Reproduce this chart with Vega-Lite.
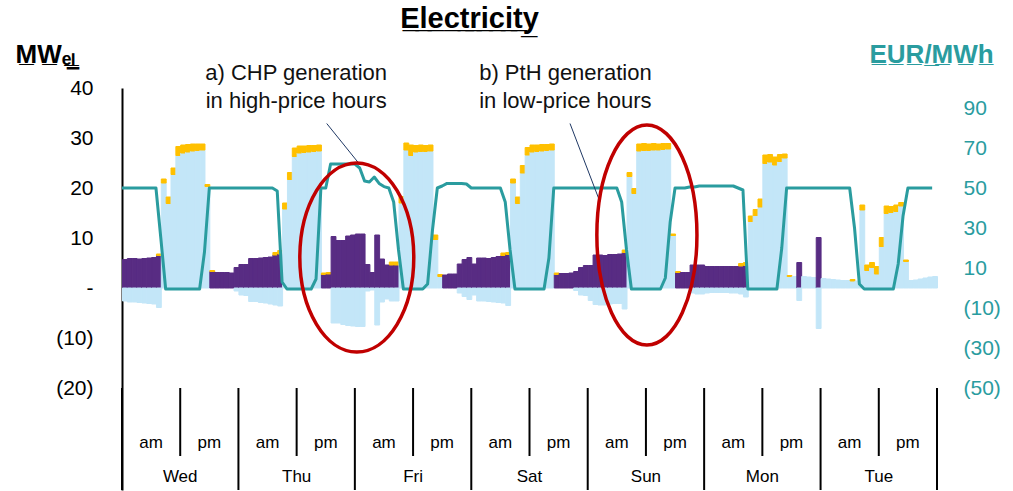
{
  "$schema": "https://vega.github.io/schema/vega-lite/v6.json",
  "width": 815,
  "height": 402,
  "autosize": "none",
  "padding": {"left": 122, "top": 88, "right": 76, "bottom": 1},
  "config": {"view": {"stroke": null}, "font": "Liberation Sans"},
  "title": {"text": "E\u0332l\u0332e\u0332c\u0332t\u0332r\u0332i\u0332c\u0332i\u0332t\u0332y\u0332", "font": "Liberation Sans", "fontSize": 29, "fontWeight": "bold", "color": "#000000", "anchor": "middle", "frame": "group", "dx": -60, "offset": -16, "baseline": "alphabetic"},
  "datasets": {
    "hours": [
      {"h":0,"chp":5.7,"pth":0,"rest":0,"neg":-2.6,"price":50},
      {"h":1,"chp":5.9,"pth":0,"rest":0,"neg":-2.8,"price":50},
      {"h":2,"chp":5.9,"pth":0,"rest":0,"neg":-2.8,"price":50},
      {"h":3,"chp":5.8,"pth":0,"rest":0,"neg":-2.9,"price":50},
      {"h":4,"chp":5.9,"pth":0,"rest":0,"neg":-3.0,"price":50},
      {"h":5,"chp":6.0,"pth":0,"rest":0,"neg":-3.1,"price":50},
      {"h":6,"chp":6.1,"pth":0,"rest":0,"neg":-3.2,"price":50},
      {"h":7,"chp":6.5,"pth":0,"rest":0.3,"neg":-3.9,"price":50},
      {"h":8,"chp":0,"pth":21,"rest":0.8,"neg":0,"price":25},
      {"h":9,"chp":0,"pth":16.9,"rest":1.3,"neg":0,"price":-0.5},
      {"h":10,"chp":0,"pth":22.7,"rest":1.3,"neg":0,"price":-0.5},
      {"h":11,"chp":0,"pth":26.5,"rest":1.8,"neg":0,"price":-0.5},
      {"h":12,"chp":0,"pth":27.0,"rest":1.6,"neg":0,"price":-0.5},
      {"h":13,"chp":0,"pth":27.2,"rest":1.5,"neg":0,"price":-0.5},
      {"h":14,"chp":0,"pth":27.4,"rest":1.4,"neg":0,"price":-0.5},
      {"h":15,"chp":0,"pth":27.5,"rest":1.3,"neg":0,"price":-0.5},
      {"h":16,"chp":0,"pth":27.6,"rest":1.2,"neg":0,"price":-0.5},
      {"h":17,"chp":0,"pth":20.3,"rest":0.4,"neg":0,"price":18},
      {"h":18,"chp":3.3,"pth":0,"rest":0.2,"neg":0,"price":50},
      {"h":19,"chp":3.1,"pth":0,"rest":0,"neg":0,"price":50},
      {"h":20,"chp":3.1,"pth":0,"rest":0,"neg":0,"price":50},
      {"h":21,"chp":3.1,"pth":0,"rest":0,"neg":0,"price":50},
      {"h":22,"chp":3.0,"pth":0,"rest":0,"neg":0,"price":50},
      {"h":23,"chp":4.1,"pth":0,"rest":0,"neg":-0.6,"price":50},
      {"h":24,"chp":4.7,"pth":0,"rest":0,"neg":-1.4,"price":50},
      {"h":25,"chp":4.7,"pth":0,"rest":0,"neg":-1.5,"price":50},
      {"h":26,"chp":5.9,"pth":0,"rest":0,"neg":-2.7,"price":50},
      {"h":27,"chp":5.9,"pth":0,"rest":0,"neg":-2.7,"price":50},
      {"h":28,"chp":6.0,"pth":0,"rest":0,"neg":-2.9,"price":50},
      {"h":29,"chp":6.1,"pth":0,"rest":0,"neg":-3.0,"price":50},
      {"h":30,"chp":6.2,"pth":0,"rest":0,"neg":-3.2,"price":50},
      {"h":31,"chp":6.6,"pth":0,"rest":0.5,"neg":-3.4,"price":50},
      {"h":32,"chp":6.8,"pth":0,"rest":0.7,"neg":-3.6,"price":48.5},
      {"h":33,"chp":0,"pth":15.8,"rest":1.2,"neg":0,"price":3},
      {"h":34,"chp":0,"pth":21.7,"rest":1.4,"neg":0,"price":-0.5},
      {"h":35,"chp":0,"pth":26.3,"rest":1.7,"neg":0,"price":-0.5},
      {"h":36,"chp":0,"pth":27.0,"rest":1.4,"neg":0,"price":-0.5},
      {"h":37,"chp":0,"pth":27.1,"rest":1.3,"neg":0,"price":-0.5},
      {"h":38,"chp":0,"pth":27.2,"rest":1.3,"neg":0,"price":-0.5},
      {"h":39,"chp":0,"pth":27.3,"rest":1.2,"neg":0,"price":-0.5},
      {"h":40,"chp":0,"pth":27.4,"rest":1.2,"neg":0,"price":4.5},
      {"h":41,"chp":2.7,"pth":0,"rest":0.3,"neg":0,"price":50},
      {"h":42,"chp":2.8,"pth":0,"rest":0.3,"neg":0,"price":50},
      {"h":43,"chp":10.3,"pth":0,"rest":0,"neg":-7.0,"price":62},
      {"h":44,"chp":9.5,"pth":0,"rest":0,"neg":-7.0,"price":62},
      {"h":45,"chp":9.5,"pth":0,"rest":0,"neg":-7.3,"price":62},
      {"h":46,"chp":10.4,"pth":0,"rest":0,"neg":-7.5,"price":62},
      {"h":47,"chp":10.6,"pth":0,"rest":0,"neg":-7.6,"price":62},
      {"h":48,"chp":10.8,"pth":0,"rest":0,"neg":-7.7,"price":62},
      {"h":49,"chp":10.8,"pth":0,"rest":0,"neg":-7.7,"price":60},
      {"h":50,"chp":4.7,"pth":0,"rest":0,"neg":-0.6,"price":53.5},
      {"h":51,"chp":3.1,"pth":0,"rest":0,"neg":-0.4,"price":53},
      {"h":52,"chp":10.6,"pth":0,"rest":0,"neg":-7.4,"price":55.5},
      {"h":53,"chp":5.8,"pth":0,"rest":0,"neg":-2.8,"price":52.3},
      {"h":54,"chp":4.6,"pth":0,"rest":0,"neg":-2.2,"price":50.7},
      {"h":55,"chp":4.6,"pth":0,"rest":0.6,"neg":-2.6,"price":50},
      {"h":56,"chp":4.6,"pth":0,"rest":0.6,"neg":-2.6,"price":43},
      {"h":57,"chp":0,"pth":17,"rest":1.3,"neg":0,"price":19},
      {"h":58,"chp":0,"pth":27.6,"rest":1.4,"neg":0,"price":-0.5},
      {"h":59,"chp":0,"pth":26.5,"rest":2.1,"neg":0,"price":-0.5},
      {"h":60,"chp":0,"pth":27.2,"rest":1.3,"neg":0,"price":-0.5},
      {"h":61,"chp":0,"pth":27.3,"rest":1.3,"neg":0,"price":-0.5},
      {"h":62,"chp":0,"pth":27.3,"rest":1.2,"neg":0,"price":-0.5},
      {"h":63,"chp":0,"pth":27.4,"rest":1.2,"neg":0,"price":2},
      {"h":64,"chp":0,"pth":9.7,"rest":0.9,"neg":0,"price":29},
      {"h":65,"chp":0,"pth":2.3,"rest":0.4,"neg":0,"price":50},
      {"h":66,"chp":2.6,"pth":0,"rest":0,"neg":0,"price":51},
      {"h":67,"chp":2.8,"pth":0,"rest":0,"neg":0,"price":52.3},
      {"h":68,"chp":2.8,"pth":0,"rest":0,"neg":0,"price":52.3},
      {"h":69,"chp":4.8,"pth":0,"rest":0,"neg":-1.0,"price":52.3},
      {"h":70,"chp":5.7,"pth":0,"rest":0,"neg":-1.7,"price":52.3},
      {"h":71,"chp":6.1,"pth":0,"rest":0,"neg":-2.3,"price":52},
      {"h":72,"chp":4.8,"pth":0,"rest":0,"neg":-1.4,"price":50},
      {"h":73,"chp":6.0,"pth":0,"rest":0,"neg":-2.6,"price":50},
      {"h":74,"chp":6.0,"pth":0,"rest":0,"neg":-2.6,"price":50},
      {"h":75,"chp":5.9,"pth":0,"rest":0,"neg":-2.7,"price":50},
      {"h":76,"chp":6.1,"pth":0,"rest":0,"neg":-2.8,"price":50},
      {"h":77,"chp":6.3,"pth":0,"rest":0,"neg":-2.9,"price":50},
      {"h":78,"chp":6.5,"pth":0,"rest":0.5,"neg":-3.0,"price":50},
      {"h":79,"chp":6.7,"pth":0,"rest":0.4,"neg":-3.5,"price":43},
      {"h":80,"chp":0,"pth":21,"rest":0.8,"neg":0,"price":19},
      {"h":81,"chp":0,"pth":16.9,"rest":1.3,"neg":0,"price":-0.5},
      {"h":82,"chp":0,"pth":23.0,"rest":1.5,"neg":0,"price":-0.5},
      {"h":83,"chp":0,"pth":26.6,"rest":1.5,"neg":0,"price":-0.5},
      {"h":84,"chp":0,"pth":27.2,"rest":1.4,"neg":0,"price":-0.5},
      {"h":85,"chp":0,"pth":27.3,"rest":1.3,"neg":0,"price":-0.5},
      {"h":86,"chp":0,"pth":27.4,"rest":1.3,"neg":0,"price":-0.5},
      {"h":87,"chp":0,"pth":27.5,"rest":1.2,"neg":0,"price":-0.5},
      {"h":88,"chp":0,"pth":27.6,"rest":1.2,"neg":0,"price":15},
      {"h":89,"chp":2.7,"pth":0,"rest":0.3,"neg":0,"price":50},
      {"h":90,"chp":2.9,"pth":0,"rest":0,"neg":0,"price":50},
      {"h":91,"chp":2.9,"pth":0,"rest":0,"neg":0,"price":50},
      {"h":92,"chp":3.0,"pth":0,"rest":0,"neg":0,"price":50},
      {"h":93,"chp":3.3,"pth":0,"rest":0,"neg":-0.5,"price":50},
      {"h":94,"chp":4.1,"pth":0,"rest":0,"neg":-1.4,"price":50},
      {"h":95,"chp":4.5,"pth":0,"rest":0,"neg":-1.5,"price":50},
      {"h":96,"chp":4.5,"pth":0,"rest":0,"neg":-2.5,"price":50},
      {"h":97,"chp":6.6,"pth":0,"rest":0,"neg":-3.3,"price":50},
      {"h":98,"chp":6.6,"pth":0,"rest":0,"neg":-3.4,"price":50},
      {"h":99,"chp":6.5,"pth":0,"rest":0,"neg":-3.4,"price":50},
      {"h":100,"chp":6.7,"pth":0,"rest":0,"neg":-3.2,"price":50},
      {"h":101,"chp":6.7,"pth":0,"rest":0,"neg":-3.1,"price":50},
      {"h":102,"chp":6.8,"pth":0,"rest":0,"neg":-3.1,"price":50},
      {"h":103,"chp":7.1,"pth":0,"rest":0.5,"neg":-4.2,"price":43},
      {"h":104,"chp":0,"pth":22.3,"rest":0.8,"neg":0,"price":19},
      {"h":105,"chp":0,"pth":18.9,"rest":1.0,"neg":0,"price":-0.5},
      {"h":106,"chp":0,"pth":27.4,"rest":1.4,"neg":0,"price":-0.5},
      {"h":107,"chp":0,"pth":27.5,"rest":1.4,"neg":0,"price":-0.5},
      {"h":108,"chp":0,"pth":27.5,"rest":1.3,"neg":0,"price":-0.5},
      {"h":109,"chp":0,"pth":27.6,"rest":1.3,"neg":0,"price":-0.5},
      {"h":110,"chp":0,"pth":27.6,"rest":1.2,"neg":0,"price":-0.5},
      {"h":111,"chp":0,"pth":27.7,"rest":1.2,"neg":0,"price":-0.5},
      {"h":112,"chp":0,"pth":27.8,"rest":1.1,"neg":0,"price":5},
      {"h":113,"chp":0,"pth":10.5,"rest":0.3,"neg":0,"price":33},
      {"h":114,"chp":3.1,"pth":0,"rest":0.2,"neg":0,"price":50},
      {"h":115,"chp":3.1,"pth":0,"rest":0,"neg":0,"price":50},
      {"h":116,"chp":3.1,"pth":0,"rest":0,"neg":0,"price":50},
      {"h":117,"chp":4.6,"pth":0,"rest":0,"neg":-1.0,"price":50.5},
      {"h":118,"chp":4.6,"pth":0,"rest":0,"neg":-1.2,"price":50.5},
      {"h":119,"chp":4.6,"pth":0,"rest":0,"neg":-1.2,"price":51},
      {"h":120,"chp":4.3,"pth":0,"rest":0,"neg":-1.0,"price":51},
      {"h":121,"chp":4.3,"pth":0,"rest":0,"neg":-0.9,"price":51},
      {"h":122,"chp":4.3,"pth":0,"rest":0,"neg":-0.9,"price":51},
      {"h":123,"chp":4.3,"pth":0,"rest":0,"neg":-0.9,"price":51},
      {"h":124,"chp":4.3,"pth":0,"rest":0,"neg":-0.9,"price":51},
      {"h":125,"chp":4.3,"pth":0,"rest":0,"neg":-1.0,"price":51},
      {"h":126,"chp":4.3,"pth":0,"rest":0,"neg":-1.0,"price":51},
      {"h":127,"chp":4.4,"pth":0,"rest":0.5,"neg":-1.2,"price":50},
      {"h":128,"chp":4.5,"pth":0,"rest":0.6,"neg":-1.8,"price":49},
      {"h":129,"chp":0,"pth":13.3,"rest":1.1,"neg":0,"price":-0.5},
      {"h":130,"chp":0,"pth":14.5,"rest":1.2,"neg":0,"price":-0.5},
      {"h":131,"chp":0,"pth":16.2,"rest":1.6,"neg":0,"price":-0.5},
      {"h":132,"chp":0,"pth":24.9,"rest":1.7,"neg":0,"price":-0.5},
      {"h":133,"chp":0,"pth":25.2,"rest":1.5,"neg":0,"price":-0.5},
      {"h":134,"chp":0,"pth":24.6,"rest":1.6,"neg":0,"price":-0.5},
      {"h":135,"chp":0,"pth":25.3,"rest":1.4,"neg":0,"price":-0.5},
      {"h":136,"chp":0,"pth":26.0,"rest":0.8,"neg":0,"price":20},
      {"h":137,"chp":0,"pth":2.3,"rest":0.2,"neg":0,"price":50},
      {"h":138,"chp":0,"pth":2.3,"rest":0,"neg":0,"price":50},
      {"h":139,"chp":5.1,"pth":0,"rest":0,"neg":-2.5,"price":50},
      {"h":140,"chp":0,"pth":2.3,"rest":0,"neg":0,"price":50},
      {"h":141,"chp":0,"pth":2.2,"rest":0,"neg":0,"price":50},
      {"h":142,"chp":0,"pth":2.1,"rest":0,"neg":0,"price":50},
      {"h":143,"chp":10.1,"pth":0,"rest":0,"neg":-8.1,"price":50},
      {"h":144,"chp":0,"pth":1.9,"rest":0,"neg":0,"price":50},
      {"h":145,"chp":0,"pth":1.8,"rest":0,"neg":0,"price":50},
      {"h":146,"chp":0,"pth":1.7,"rest":0,"neg":0,"price":50},
      {"h":147,"chp":0,"pth":1.6,"rest":0,"neg":0,"price":50},
      {"h":148,"chp":0,"pth":1.5,"rest":0,"neg":0,"price":50},
      {"h":149,"chp":0,"pth":1.5,"rest":0,"neg":0,"price":50},
      {"h":150,"chp":0,"pth":1.4,"rest":0.3,"neg":0,"price":50},
      {"h":151,"chp":0,"pth":1.4,"rest":0,"neg":0,"price":30},
      {"h":152,"chp":0,"pth":15.6,"rest":1.0,"neg":0,"price":2},
      {"h":153,"chp":0,"pth":3.5,"rest":1.1,"neg":0,"price":-0.5},
      {"h":154,"chp":0,"pth":4.1,"rest":1.0,"neg":0,"price":-0.5},
      {"h":155,"chp":0,"pth":2.8,"rest":1.5,"neg":0,"price":-0.5},
      {"h":156,"chp":0,"pth":8.3,"rest":1.8,"neg":0,"price":-0.5},
      {"h":157,"chp":0,"pth":14.9,"rest":1.5,"neg":0,"price":-0.5},
      {"h":158,"chp":0,"pth":15.1,"rest":1.2,"neg":0,"price":-0.5},
      {"h":159,"chp":0,"pth":15.3,"rest":1.3,"neg":0,"price":-0.5},
      {"h":160,"chp":0,"pth":16.4,"rest":0.7,"neg":0,"price":12},
      {"h":161,"chp":0,"pth":5.3,"rest":0.3,"neg":0,"price":36},
      {"h":162,"chp":0,"pth":1.5,"rest":0,"neg":0,"price":50},
      {"h":163,"chp":0,"pth":1.6,"rest":0,"neg":0,"price":50},
      {"h":164,"chp":0,"pth":1.8,"rest":0,"neg":0,"price":50},
      {"h":165,"chp":0,"pth":2.0,"rest":0,"neg":0,"price":50},
      {"h":166,"chp":0,"pth":2.2,"rest":0,"neg":0,"price":50},
      {"h":167,"chp":0,"pth":2.3,"rest":0,"neg":0,"price":50}
    ],
    "daylines": [{"t":0},{"t":24},{"t":48},{"t":72},{"t":96},{"t":120},{"t":144},{"t":168}],
    "ampmlines": [{"t":12},{"t":36},{"t":60},{"t":84},{"t":108},{"t":132},{"t":156}],
    "ampm": [
      {"t":6,"lab":"am"},{"t":18,"lab":"pm"},{"t":30,"lab":"am"},{"t":42,"lab":"pm"},
      {"t":54,"lab":"am"},{"t":66,"lab":"pm"},{"t":78,"lab":"am"},{"t":90,"lab":"pm"},
      {"t":102,"lab":"am"},{"t":114,"lab":"pm"},{"t":126,"lab":"am"},{"t":138,"lab":"pm"},
      {"t":150,"lab":"am"},{"t":162,"lab":"pm"}
    ],
    "days": [
      {"t":12,"lab":"Wed"},{"t":36,"lab":"Thu"},{"t":60,"lab":"Fri"},{"t":84,"lab":"Sat"},
      {"t":108,"lab":"Sun"},{"t":132,"lab":"Mon"},{"t":156,"lab":"Tue"}
    ],
    "notes": [
      {"x":35.9,"y":41.6,"txt":"a) CHP generation"},
      {"x":35.9,"y":36.1,"txt":"in high-price hours"},
      {"x":91.4,"y":41.6,"txt":"b) PtH generation"},
      {"x":91.4,"y":36.1,"txt":"in low-price hours"}
    ],
    "leaders": [
      {"x":42.2,"y":32.9,"x2":49.1,"y2":24.6},
      {"x":92.35,"y":32.9,"x2":98.5,"y2":17.3}
    ],
    "ellA": [{"x":48.4,"y":6.1}],
    "ellB": [{"x":108.2,"y":10.6}]
  },
  "layer": [
    {
      "layer": [
        {
          "data": {"name": "hours"},
          "transform": [{"fold": ["chp","pth","rest","neg"], "as": ["series","mw"]}, {"filter": "datum.mw != 0"}],
          "mark": {"type": "bar", "binSpacing": 0, "strokeWidth": 1},
          "encoding": {
            "x": {"field": "h", "type": "quantitative", "bin": {"binned": true, "step": 1}, "scale": {"domain": [0,168], "nice": false, "zero": false}, "axis": null},
            "y": {"field": "mw", "type": "quantitative", "stack": "zero",
                  "scale": {"domain": [-40.4,40], "nice": false, "zero": false},
                  "axis": {
                    "values": [-20,-10,0,10,20,30,40],
                    "labelExpr": "datum.value == 0 ? '-' : (datum.value < 0 ? '(' + (-datum.value) + ')' : '' + datum.value)",
                    "grid": false, "ticks": false, "tickSize": 0,
                    "domain": true, "domainColor": "#000000", "domainWidth": 2,
                    "labelFont": "Liberation Sans", "labelFontSize": 21, "labelColor": "#000000", "labelPadding": 29,
                    "labelOverlap": false, "labelFlush": false, "labelBound": false,
                    "title": "M\u0332W\u0332\u2091\u0332\u2097\u0332", "titleFont": "Liberation Sans", "titleFontSize": 26, "titleFontWeight": "bold", "titleColor": "#000000",
                    "titleAngle": 0, "titleAlign": "left", "titleBaseline": "alphabetic", "titleX": -107, "titleY": -26
                  }},
            "color": {"field": "series", "type": "nominal", "scale": {"domain": ["chp","pth","rest","neg"], "range": ["#582c83","#c3e6f8","#ffc000","#c3e6f8"]}, "legend": null},
            "stroke": {"field": "series", "type": "nominal", "scale": {"domain": ["chp","pth","rest","neg"], "range": ["#582c83","#c3e6f8","#ffc000","#c3e6f8"]}, "legend": null},
            "order": {"field": "series", "type": "nominal", "sort": "ascending"}
          }
        },
        {
          "mark": {"type": "rule", "color": "#000000", "strokeWidth": 2},
          "encoding": {"y": {"datum": 0, "type": "quantitative"}}
        },
        {
          "data": {"name": "daylines"},
          "mark": {"type": "rule", "color": "#000000", "strokeWidth": 2},
          "encoding": {
            "x": {"field": "t", "type": "quantitative", "scale": {"domain": [0,168], "nice": false, "zero": false}, "axis": null},
            "y": {"datum": -20, "type": "quantitative"},
            "y2": {"datum": -40.4}
          }
        },
        {
          "data": {"name": "ampmlines"},
          "mark": {"type": "rule", "color": "#000000", "strokeWidth": 2},
          "encoding": {
            "x": {"field": "t", "type": "quantitative", "scale": {"domain": [0,168], "nice": false, "zero": false}, "axis": null},
            "y": {"datum": -20, "type": "quantitative"},
            "y2": {"datum": -33.6}
          }
        },
        {
          "data": {"name": "ampm"},
          "mark": {"type": "text", "font": "Liberation Sans", "fontSize": 17, "color": "#000000", "baseline": "middle", "align": "center"},
          "encoding": {
            "x": {"field": "t", "type": "quantitative", "scale": {"domain": [0,168], "nice": false, "zero": false}, "axis": null},
            "y": {"datum": -31, "type": "quantitative"},
            "text": {"field": "lab"}
          }
        },
        {
          "data": {"name": "days"},
          "mark": {"type": "text", "font": "Liberation Sans", "fontSize": 17, "color": "#000000", "baseline": "middle", "align": "center"},
          "encoding": {
            "x": {"field": "t", "type": "quantitative", "scale": {"domain": [0,168], "nice": false, "zero": false}, "axis": null},
            "y": {"datum": -37.8, "type": "quantitative"},
            "text": {"field": "lab"}
          }
        }
      ]
    },
    {
      "data": {"name": "hours"},
      "mark": {"type": "line", "color": "#2a9c9f", "strokeWidth": 3, "strokeJoin": "round"},
      "encoding": {
        "x": {"field": "h", "type": "quantitative", "bin": {"binned": true, "step": 1}, "bandPosition": 0.5, "scale": {"domain": [0,168], "nice": false, "zero": false}, "axis": null},
        "y": {"field": "price", "type": "quantitative",
              "scale": {"domain": [-101,100], "nice": false, "zero": false},
              "axis": {
                "orient": "right",
                "values": [90,70,50,30,10,-10,-30,-50],
                "labelExpr": "datum.value < 0 ? '(' + (-datum.value) + ')' : '' + datum.value",
                "grid": false, "ticks": false, "tickSize": 0, "domain": false,
                "labelFont": "Liberation Sans", "labelFontSize": 21, "labelColor": "#2a9c9f", "labelPadding": 26, "labelAlign": "left",
                "labelOverlap": false, "labelFlush": false, "labelBound": false,
                "title": "E\u0332U\u0332R\u0332/\u0332M\u0332W\u0332h\u0332", "titleFont": "Liberation Sans", "titleFontSize": 26, "titleFontWeight": "bold", "titleColor": "#2a9c9f",
                "titleAngle": 0, "titleAlign": "left", "titleBaseline": "alphabetic", "titleX": -68, "titleY": -26
              }}
      }
    },
    {
      "layer": [
        {
          "data": {"name": "notes"},
          "mark": {"type": "text", "font": "Liberation Sans", "fontSize": 22, "color": "#111111", "baseline": "alphabetic", "align": "center"},
          "encoding": {
            "x": {"field": "x", "type": "quantitative", "scale": {"domain": [0,168], "nice": false, "zero": false}, "axis": null},
            "y": {"field": "y", "type": "quantitative", "scale": {"domain": [-40.4,40], "nice": false, "zero": false}, "axis": null},
            "text": {"field": "txt"}
          }
        },
        {
          "data": {"name": "leaders"},
          "mark": {"type": "rule", "color": "#1f3864", "strokeWidth": 1},
          "encoding": {
            "x": {"field": "x", "type": "quantitative", "scale": {"domain": [0,168], "nice": false, "zero": false}, "axis": null},
            "y": {"field": "y", "type": "quantitative", "scale": {"domain": [-40.4,40], "nice": false, "zero": false}, "axis": null},
            "x2": {"field": "x2"},
            "y2": {"field": "y2"}
          }
        },
        {
          "data": {"name": "ellA"},
          "mark": {"type": "point", "filled": false, "opacity": 1, "stroke": "#c00000", "strokeWidth": 3.5, "size": 35721,
                   "shape": "M0.603,0C0.603,0.552,0.333,1,0,1C-0.333,1,-0.603,0.552,-0.603,0C-0.603,-0.552,-0.333,-1,0,-1C0.333,-1,0.603,-0.552,0.603,0Z"},
          "encoding": {
            "x": {"field": "x", "type": "quantitative", "scale": {"domain": [0,168], "nice": false, "zero": false}, "axis": null},
            "y": {"field": "y", "type": "quantitative", "scale": {"domain": [-40.4,40], "nice": false, "zero": false}, "axis": null}
          }
        },
        {
          "data": {"name": "ellB"},
          "mark": {"type": "point", "filled": false, "opacity": 1, "stroke": "#c00000", "strokeWidth": 3.5, "size": 48400,
                   "shape": "M0.455,0C0.455,0.552,0.251,1,0,1C-0.251,1,-0.455,0.552,-0.455,0C-0.455,-0.552,-0.251,-1,0,-1C0.251,-1,0.455,-0.552,0.455,0Z"},
          "encoding": {
            "x": {"field": "x", "type": "quantitative", "scale": {"domain": [0,168], "nice": false, "zero": false}, "axis": null},
            "y": {"field": "y", "type": "quantitative", "scale": {"domain": [-40.4,40], "nice": false, "zero": false}, "axis": null}
          }
        }
      ]
    }
  ],
  "resolve": {"scale": {"y": "independent"}}
}
